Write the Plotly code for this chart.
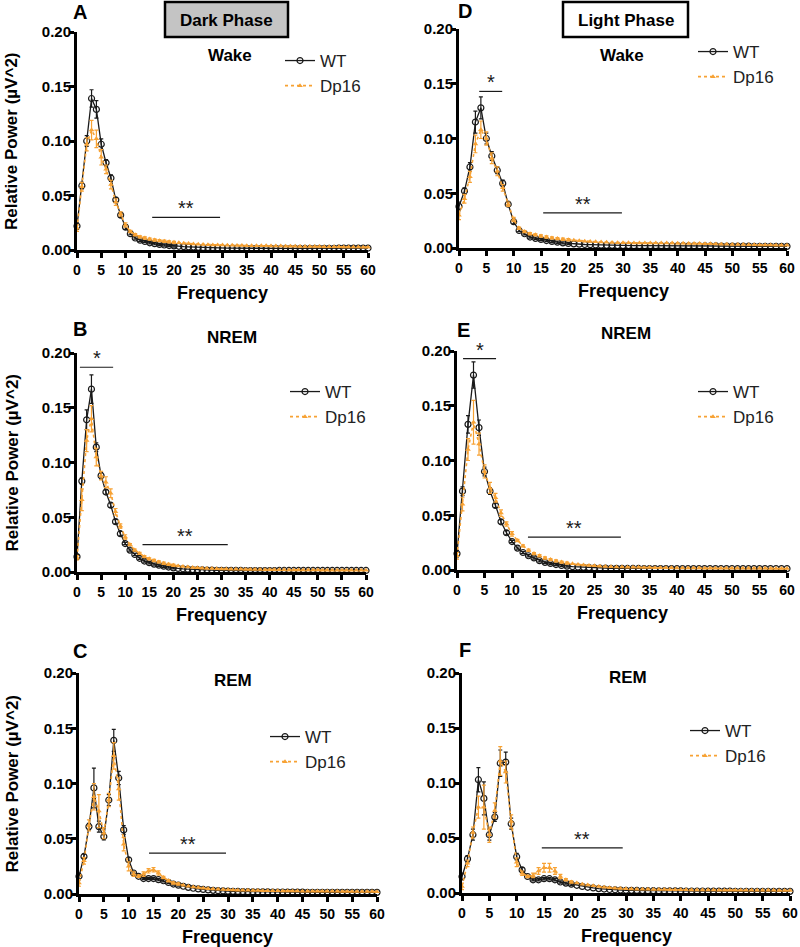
import plotly.graph_objects as go

# ---------------- data ----------------
freq = list(range(61))

# Panel A: Dark phase, Wake
A_wt = [.022,.059,.100,.139,.129,.097,.080,.066,.046,.032,
        .021,.015,.011,.0090,.0078,.0066,.0058,.0051,.0046,.0041,
        .0037,.0034,.0031,.0029,.0027,.0025,.0023,.0022,.0021,.0020,
        .0019,.0018,.0018,.0017,.0017,.0016,.0016,.0016,.0015,.0015,
        .0015,.0015,.0014,.0014,.0014,.0014,.0014,.0014,.0014,.0015,
        .0015,.0015,.0016,.0016,.0017,.0017,.0017,.0018,.0018,.0018,
        .0018]
A_dp = [.020,.058,.097,.110,.102,.085,.074,.060,.044,.033,
        .023,.017,.014,.012,.011,.010,.0092,.0086,.0080,.0075,
        .0070,.0066,.0062,.0059,.0056,.0053,.0051,.0049,.0047,.0046,
        .0045,.0044,.0043,.0042,.0041,.0040,.0040,.0039,.0038,.0038,
        .0037,.0036,.0036,.0035,.0034,.0034,.0033,.0033,.0032,.0031,
        .0031,.0030,.0030,.0029,.0029,.0028,.0028,.0027,.0027,.0026,
        .0026]
A_wt_err = [.003,.003,.005,.008,.008,.005,.003,.003,.002,.002,.002,.001,.001,.001,.001,.001,.001,.001,.001,.001,.001]
A_dp_err = [.003,.004,.006,.009,.008,.007,.004,.004,.003,.002,.002,.001,.001,.001,.001,.001,.001,.001,.001,.001,.001]

# Panel D: Light phase, Wake
D_wt = [.038,.052,.074,.115,.128,.100,.084,.071,.059,.040,
        .024,.016,.013,.010,.0088,.0078,.0068,.0060,.0053,.0047,
        .0042,.0038,.0035,.0032,.0030,.0028,.0026,.0025,.0024,.0023,
        .0022,.0022,.0021,.0021,.0021,.0021,.0021,.0021,.0021,.0021,
        .0021,.0021,.0020,.0020,.0020,.0019,.0019,.0019,.0018,.0018,
        .0018,.0017,.0017,.0017,.0016,.0016,.0016,.0016,.0015,.0015,
        .0015]
D_dp = [.030,.045,.065,.095,.108,.100,.082,.070,.055,.040,
        .026,.018,.015,.013,.012,.011,.0100,.0092,.0086,.0080,
        .0075,.0070,.0066,.0062,.0059,.0056,.0054,.0052,.0050,.0049,
        .0048,.0047,.0046,.0046,.0045,.0045,.0045,.0045,.0045,.0045,
        .0044,.0043,.0042,.0041,.0040,.0039,.0038,.0036,.0035,.0034,
        .0033,.0032,.0031,.0030,.0029,.0028,.0027,.0027,.0026,.0026,
        .0025]
D_wt_err = [.004,.003,.004,.010,.010,.005,.004,.003,.003,.002,.002,.001,.001,.001,.001,.001,.001,.001,.001,.001,.001]
D_dp_err = [.004,.004,.005,.008,.008,.006,.005,.004,.003,.002,.002,.001,.001,.001,.001,.001,.001,.001,.001,.001,.001]

# Panel B: Dark phase, NREM
B_wt = [.014,.083,.139,.167,.114,.088,.073,.061,.046,.035,
        .026,.020,.016,.0125,.0100,.0085,.0072,.0062,.0053,.0045,
        .0038,.0033,.0029,.0026,.0023,.0021,.0019,.0018,.0017,.0016,
        .0015,.0015,.0014,.0014,.0014,.0013,.0013,.0013,.0013,.0013,
        .0013,.0013,.0014,.0014,.0014,.0014,.0014,.0014,.0014,.0014,
        .0014,.0014,.0014,.0014,.0014,.0014,.0014,.0014,.0014,.0014,
        .0014]
B_dp = [.013,.066,.120,.140,.105,.088,.082,.072,.055,.042,
        .032,.025,.020,.017,.014,.012,.0105,.0092,.0080,.0070,
        .0062,.0055,.0050,.0045,.0041,.0038,.0035,.0033,.0031,.0029,
        .0028,.0027,.0026,.0025,.0024,.0023,.0023,.0022,.0022,.0021,
        .0021,.0020,.0020,.0020,.0019,.0019,.0019,.0018,.0018,.0018,
        .0018,.0017,.0017,.0017,.0017,.0016,.0016,.0016,.0016,.0016,
        .0016]
B_wt_err = [.002,.003,.009,.013,.004,.003,.002,.002,.002,.002,.001,.001,.001,.001,.001,.001,.001,.001,.001,.001,.001]
B_dp_err = [.002,.010,.010,.012,.008,.004,.005,.004,.003,.002,.002,.001,.001,.001,.001,.001,.001,.001,.001,.001,.001]

# Panel E: Light phase, NREM
E_wt = [.015,.072,.133,.178,.130,.090,.072,.059,.044,.034,
        .026,.020,.016,.013,.011,.0085,.0070,.0060,.0050,.0042,
        .0035,.0030,.0027,.0024,.0022,.0020,.0018,.0017,.0016,.0015,
        .0015,.0014,.0014,.0014,.0013,.0013,.0013,.0013,.0013,.0013,
        .0013,.0013,.0013,.0013,.0013,.0013,.0013,.0013,.0013,.0013,
        .0013,.0013,.0013,.0013,.0013,.0013,.0013,.0013,.0013,.0013,
        .0013]
E_dp = [.013,.060,.110,.135,.115,.090,.075,.066,.052,.042,
        .033,.027,.022,.018,.015,.013,.011,.0095,.0083,.0072,
        .0063,.0056,.0050,.0045,.0041,.0038,.0035,.0032,.0030,.0028,
        .0027,.0026,.0025,.0024,.0023,.0022,.0021,.0021,.0020,.0020,
        .0019,.0019,.0018,.0018,.0018,.0017,.0017,.0017,.0016,.0016,
        .0016,.0016,.0015,.0015,.0015,.0015,.0015,.0014,.0014,.0014,
        .0014]
E_wt_err = [.003,.004,.008,.012,.007,.004,.003,.002,.002,.002,.001,.001,.001,.001,.001,.001,.001,.001,.001,.001,.001]
E_dp_err = [.003,.006,.010,.020,.010,.006,.005,.004,.003,.002,.002,.001,.001,.001,.001,.001,.001,.001,.001,.001,.001]

# Panel C: Dark phase, REM
C_wt = [.016,.034,.061,.096,.061,.052,.085,.139,.105,.058,
        .031,.019,.016,.014,.014,.014,.013,.012,.0105,.0090,
        .0080,.0070,.0060,.0052,.0046,.0041,.0037,.0033,.0030,.0028,
        .0026,.0024,.0023,.0022,.0021,.0020,.0020,.0019,.0019,.0018,
        .0018,.0018,.0017,.0017,.0017,.0017,.0016,.0016,.0016,.0016,
        .0016,.0016,.0015,.0015,.0015,.0015,.0015,.0015,.0015,.0015,
        .0015]
C_dp = [.010,.030,.062,.088,.075,.055,.085,.125,.095,.045,
        .025,.018,.016,.018,.021,.022,.019,.015,.012,.010,
        .0090,.0080,.0070,.0064,.0058,.0052,.0048,.0045,.0042,.0040,
        .0038,.0036,.0035,.0034,.0033,.0032,.0031,.0030,.0030,.0029,
        .0029,.0028,.0028,.0027,.0027,.0026,.0026,.0025,.0025,.0025,
        .0024,.0024,.0024,.0023,.0023,.0023,.0022,.0022,.0022,.0022,
        .0021]
C_wt_err = [.003,.002,.003,.018,.005,.003,.005,.010,.006,.004,.002,.001,.001,.001,.001,.001,.001,.001,.001,.001,.001]
C_dp_err = [.003,.003,.005,.012,.015,.005,.006,.012,.010,.006,.004,.002,.001,.002,.002,.002,.002,.001,.001,.001,.001]

# Panel F: Light phase, REM
F_wt = [.015,.031,.053,.103,.086,.053,.069,.118,.119,.063,
        .033,.021,.015,.012,.012,.013,.013,.012,.010,.009,
        .0080,.0070,.0060,.0052,.0046,.0040,.0036,.0032,.0029,.0027,
        .0025,.0024,.0023,.0022,.0021,.0021,.0020,.0020,.0019,.0019,
        .0019,.0018,.0018,.0018,.0018,.0017,.0017,.0017,.0017,.0017,
        .0016,.0016,.0016,.0016,.0016,.0016,.0016,.0015,.0015,.0015,
        .0015]
F_dp = [.006,.027,.055,.078,.078,.053,.075,.120,.110,.065,
        .028,.018,.015,.016,.020,.023,.023,.020,.015,.012,
        .0100,.0090,.0080,.0072,.0065,.0058,.0052,.0047,.0043,.0040,
        .0038,.0036,.0035,.0034,.0033,.0032,.0031,.0031,.0030,.0030,
        .0029,.0029,.0028,.0028,.0027,.0027,.0027,.0026,.0026,.0026,
        .0025,.0025,.0025,.0025,.0024,.0024,.0024,.0024,.0023,.0023,
        .0023]
F_wt_err = [.003,.003,.005,.011,.015,.005,.004,.012,.009,.005,.003,.002,.001,.001,.001,.001,.001,.001,.001,.001,.001]
F_dp_err = [.003,.003,.005,.010,.020,.007,.007,.013,.010,.006,.004,.002,.001,.002,.003,.004,.004,.003,.002,.001,.001]

y_ticks = [0.0, 0.05, 0.10, 0.15, 0.20]
x_ticks = list(range(0, 61, 5))

# ---------------- layout helpers ----------------
W, H = 800, 947
def px(x): return x / W
def py(y): return 1 - y / H

BLACK = "#1a1a1a"
ORANGE = "#F7A234"
FONT = "Liberation Sans"

panels = [
    dict(letter="A", state="Wake", wt=A_wt, dp=A_dp, we=A_wt_err, de=A_dp_err,
         box=(77, 368, 32, 250), ytitle=True, leg=(280, 43), letter_xy=(80, 12), state_xy=(230, 56),
         bars=[(15.5, 29.5, 0.030, "**")]),
    dict(letter="D", state="Wake", wt=D_wt, dp=D_dp, we=D_wt_err, de=D_dp_err,
         box=(459, 787, 29, 248), ytitle=False, leg=(693, 34), letter_xy=(465, 11), state_xy=(622, 56),
         bars=[(3.7, 7.9, 0.143, "*"), (15.4, 29.8, 0.032, "**")]),
    dict(letter="B", state="NREM", wt=B_wt, dp=B_dp, we=B_wt_err, de=B_dp_err,
         box=(77, 366, 353, 572), ytitle=True, leg=(285, 374), letter_xy=(80, 329), state_xy=(232, 337),
         bars=[(0.6, 7.5, 0.187, "*"), (13.6, 31.3, 0.025, "**")]),
    dict(letter="E", state="NREM", wt=E_wt, dp=E_dp, we=E_wt_err, de=E_dp_err,
         box=(457, 787, 351, 570), ytitle=False, leg=(693, 374), letter_xy=(463, 330), state_xy=(626, 333),
         bars=[(1.1, 7.1, 0.193, "*"), (12.9, 29.8, 0.030, "**")]),
    dict(letter="C", state="REM", wt=C_wt, dp=C_dp, we=C_wt_err, de=C_dp_err,
         box=(79, 377, 673, 894), ytitle=True, leg=(265, 719), letter_xy=(80, 651), state_xy=(233, 680),
         bars=[(14.1, 29.6, 0.037, "**")]),
    dict(letter="F", state="REM", wt=F_wt, dp=F_dp, we=F_wt_err, de=F_dp_err,
         box=(462, 790, 673, 893), ytitle=False, leg=(685, 713), letter_xy=(465, 650), state_xy=(628, 677),
         bars=[(14.6, 29.4, 0.041, "**")]),
]

fig = go.Figure()
annotations = []
shapes = []
layout = {}

def paper_text(text, x, y, size, angle=0):
    return dict(text=text, x=px(x), y=py(y), xref="paper", yref="paper", showarrow=False,
                xanchor="center", yanchor="middle", textangle=angle,
                font=dict(family=FONT, size=size, color="black"))

for i, p in enumerate(panels, start=1):
    xa = "x" if i == 1 else f"x{i}"
    ya = "y" if i == 1 else f"y{i}"
    lg = "legend" if i == 1 else f"legend{i}"
    l, r, t, b = p["box"]

    fig.add_trace(go.Scatter(
        x=freq, y=p["wt"], xaxis=xa, yaxis=ya, name="WT", legend=lg,
        mode="lines+markers", cliponaxis=False,
        line=dict(color=BLACK, width=1.3),
        marker=dict(symbol="circle-open", size=6, color=BLACK, line=dict(width=1.2)),
        error_y=dict(type="data", array=p["we"], symmetric=True, color=BLACK, thickness=1.2, width=2),
    ))
    fig.add_trace(go.Scatter(
        x=freq, y=p["dp"], xaxis=xa, yaxis=ya, name="Dp16", legend=lg,
        mode="lines+markers", cliponaxis=False,
        line=dict(color=ORANGE, width=1.6, dash="dot"),
        marker=dict(symbol="triangle-up", size=5, color=ORANGE),
        error_y=dict(type="data", array=p["de"], symmetric=True, color=ORANGE, thickness=1.2, width=2),
    ))

    axis_common = dict(showline=True, linewidth=3, linecolor="black", ticks="outside",
                       ticklen=5, tickwidth=2.5, tickcolor="black", showgrid=False, zeroline=False,
                       automargin=False)
    layout["xaxis" if i == 1 else f"xaxis{i}"] = dict(
        domain=[px(l), px(r)], anchor=ya, range=[0, 60], tickvals=x_ticks,
        tickfont=dict(family=FONT, size=14, color="black", weight="bold"), **axis_common)
    layout["yaxis" if i == 1 else f"yaxis{i}"] = dict(
        domain=[py(b), py(t)], anchor=xa, range=[0, 0.2], tickvals=y_ticks, tickformat=".2f",
        ticklabelstandoff=-5,
        tickfont=dict(family=FONT, size=15, color="black", weight="bold"), **axis_common)

    layout[lg] = dict(x=px(p["leg"][0]), y=py(p["leg"][1]), xanchor="left", yanchor="top",
                      bgcolor="rgba(0,0,0,0)", borderwidth=0, itemwidth=30, tracegroupgap=0,
                      font=dict(family=FONT, size=17, color="#222"))

    annotations.append(paper_text(f"<b>{p['letter']}</b>", *p["letter_xy"], 20))
    annotations.append(paper_text(f"<b>{p['state']}</b>", *p["state_xy"], 17))
    annotations.append(paper_text("<b>Frequency</b>", (l + r) / 2, b + 43, 18))
    if p["ytitle"]:
        annotations.append(paper_text("<b>Relative Power (µV^2)</b>", 12, (t + b) / 2, 17, -90))
    for x0, x1, yv, star in p["bars"]:
        shapes.append(dict(type="line", xref=xa, yref=ya, x0=x0, x1=x1, y0=yv, y1=yv,
                           line=dict(color=BLACK, width=1.2)))
        annotations.append(dict(text=star, x=(x0 + x1) / 2, y=yv, xref=xa, yref=ya,
                                showarrow=False, xanchor="center", yanchor="bottom", yshift=-4,
                                font=dict(family=FONT, size=20, color=BLACK)))

# header boxes
shapes.append(dict(type="rect", xref="paper", yref="paper", x0=px(165), x1=px(288), y0=py(37), y1=py(2),
                   line=dict(color="black", width=2.5), fillcolor="#c4c4c4", layer="below"))
annotations.append(paper_text("<b>Dark Phase</b>", 226.5, 20, 17))
shapes.append(dict(type="rect", xref="paper", yref="paper", x0=px(563), x1=px(688), y0=py(37), y1=py(2),
                   line=dict(color="black", width=2.5), fillcolor="white", layer="below"))
annotations.append(paper_text("<b>Light Phase</b>", 625.5, 20, 17))

fig.update_layout(
    width=W, height=H, margin=dict(l=0, r=0, t=0, b=0, autoexpand=False),
    paper_bgcolor="white", plot_bgcolor="white",
    annotations=annotations, shapes=shapes, **layout)

fig.write_html("out.html", config={"displayModeBar": False},
               post_script="document.body.style.margin='0px';")
